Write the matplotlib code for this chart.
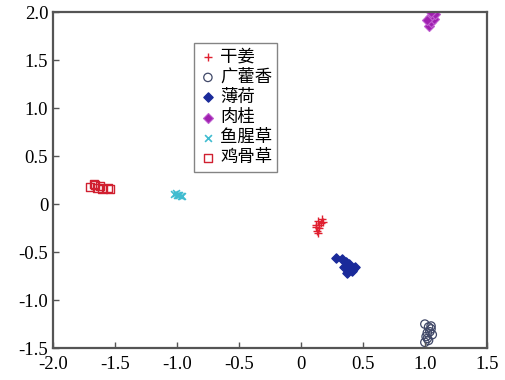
import matplotlib
matplotlib.use("Agg")
import matplotlib.pyplot as plt

plt.rcParams["font.family"] = ["Liberation Serif", "Noto Sans CJK SC", "DejaVu Sans"]

# 干姜
ganjiang_x = [0.12, 0.14, 0.15, 0.16, 0.13, 0.17, 0.15, 0.14, 0.18, 0.12]
ganjiang_y = [-0.22, -0.18, -0.25, -0.20, -0.28, -0.16, -0.22, -0.30, -0.19, -0.24]
# 广藿香
guanghuo_x = [1.00, 1.03, 1.05, 1.02, 1.06, 1.01, 1.04, 1.03, 1.00, 1.05, 1.02]
guanghuo_y = [-1.25, -1.28, -1.30, -1.34, -1.36, -1.38, -1.33, -1.42, -1.44, -1.27, -1.40]
# 薄荷
bohe_x = [0.28, 0.33, 0.36, 0.38, 0.40, 0.42, 0.37, 0.39, 0.35, 0.41, 0.44]
bohe_y = [-0.56, -0.57, -0.60, -0.64, -0.66, -0.68, -0.72, -0.62, -0.66, -0.70, -0.66]
# 肉桂
rougui_x = [1.03, 1.05, 1.07, 1.04, 1.06, 1.08, 1.02, 1.05]
rougui_y = [1.86, 1.90, 1.93, 1.95, 1.97, 1.98, 1.92, 2.00]
# 鱼腥草
yuxing_x = [-1.02, -1.00, -0.98, -0.97, -0.99, -0.96, -1.01]
yuxing_y = [0.11, 0.10, 0.09, 0.08, 0.10, 0.08, 0.12]
# 鸡骨草
jigu_x = [-1.70, -1.67, -1.64, -1.62, -1.60, -1.56, -1.54, -1.66]
jigu_y = [0.18, 0.21, 0.17, 0.19, 0.16, 0.17, 0.16, 0.20]

x_ticks = [-2.0, -1.5, -1.0, -0.5, 0, 0.5, 1.0, 1.5]
x_labels = ["-2.0", "-1.5", "-1.0", "-0.5", "0", "0.5", "1.0", "1.5"]
y_ticks = [-1.5, -1.0, -0.5, 0, 0.5, 1.0, 1.5, 2.0]
y_labels = ["-1.5", "-1.0", "-0.5", "0", "0.5", "1.0", "1.5", "2.0"]

fig = plt.figure(figsize=(5.05, 3.8), dpi=100)
ax = fig.add_axes([0.105, 0.084, 0.859, 0.884])

ax.scatter(ganjiang_x, ganjiang_y, marker="+", s=36, color="#e02030", linewidths=1.0, label="干姜")
ax.scatter(guanghuo_x, guanghuo_y, marker="o", s=36, facecolors="none", edgecolors="#404868",
           linewidths=0.9, label="广藿香")
ax.scatter(bohe_x, bohe_y, marker="D", s=22, color="#1a2a9a", edgecolors="#1a2a9a", label="薄荷")
ax.scatter(rougui_x, rougui_y, marker="D", s=26, color="#a020b0", edgecolors="#c060d0",
           linewidths=0.8, label="肉桂")
ax.scatter(yuxing_x, yuxing_y, marker="x", s=24, color="#40bcd0", linewidths=1.2, label="鱼腥草")
ax.scatter(jigu_x, jigu_y, marker="s", s=36, facecolors="none", edgecolors="#d02030",
           linewidths=1.0, label="鸡骨草")

ax.set_xlim(-2.0, 1.5)
ax.set_ylim(-1.5, 2.0)
ax.set_xticks(x_ticks)
ax.set_xticklabels(x_labels)
ax.set_yticks(y_ticks)
ax.set_yticklabels(y_labels)
ax.tick_params(direction="in", length=4, labelsize=13.5, color="#555555", width=1.0)
ax.tick_params(axis="x", pad=6)
for spine in ax.spines.values():
    spine.set_color("#555555")
    spine.set_linewidth(1.6)

leg = ax.legend(loc="upper left", bbox_to_anchor=(0.305, 0.935), fontsize=12.5,
                frameon=True, fancybox=False, edgecolor="#666666", handletextpad=0.2,
                labelspacing=0.12, borderpad=0.3, handlelength=1.0)
leg.get_frame().set_linewidth(1.0)
for t in leg.get_texts():
    t.set_fontfamily(["Noto Sans CJK SC", "DejaVu Sans"])

fig.savefig("out.png", dpi=100, facecolor="white")
